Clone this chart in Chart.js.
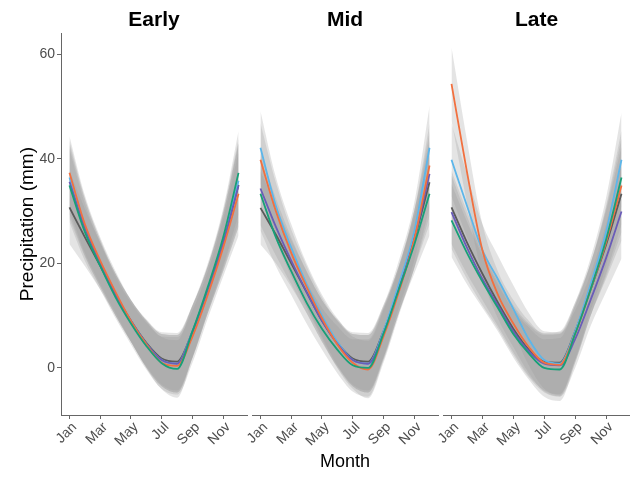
<!DOCTYPE html>
<html>
<head>
<meta charset="utf-8">
<script src="https://cdn.jsdelivr.net/npm/chart.js@4.4.1/dist/chart.umd.min.js"></script>
<style>
  body { margin: 0; background: #fff; }
  #wrap { position: relative; width: 630px; height: 477px; }
  #wrap canvas { position: absolute; left: 0; top: 0; }
</style>
</head>
<body>
<div id="wrap">
  <canvas id="early" width="630" height="477"></canvas>
  <canvas id="mid" width="630" height="477"></canvas>
  <canvas id="late" width="630" height="477"></canvas>
</div>
<script>
// months on the x axis, ticks every 2 months
const months = ["Jan","Feb","Mar","Apr","May","Jun","Jul","Aug","Sep","Oct","Nov","Dec"]
const tickMonths = [0, 2, 4, 6, 8, 10]
const yTicks = [0, 20, 40, 60]

// series colours (drawn in this order, last on top)
const seriesColors = ["#5a5a5a", "#5cb6ea", "#6a5cb8", "#f2703f", "#17a078"]

// Early
const earlyGray   = [30.7, 25.0, 19.5, 14.0, 9.0, 4.8, 1.8, 1.2, 7.0, 15.0, 24.0, 35.0]
const earlyBlue   = [36.4, 27.0, 20.0, 14.0, 9.0, 4.6, 1.5, 0.8, 7.0, 15.0, 24.5, 35.8]
const earlyPurple = [35.6, 26.8, 20.0, 14.0, 9.0, 4.6, 1.5, 0.8, 6.8, 15.0, 24.0, 34.9]
const earlyOrange = [37.3, 27.5, 20.5, 14.5, 9.0, 4.5, 1.0, 0.4, 6.0, 14.0, 23.0, 33.3]
const earlyGreen  = [34.9, 26.0, 19.5, 13.5, 8.5, 4.2, 0.9, -0.2, 7.0, 15.5, 25.0, 37.3]
const earlyBand   = [7, 5.5, 4.5, 4, 4, 4.5, 5, 5.5, 5, 4.5, 5.5, 8]

// Mid
const midGray   = [30.6, 25.5, 20.0, 14.5, 9.0, 4.8, 1.8, 1.2, 7.0, 15.0, 24.5, 35.5]
const midBlue   = [42.1, 31.0, 23.0, 16.0, 10.0, 5.0, 1.5, 0.8, 7.0, 16.0, 26.0, 42.1]
const midPurple = [34.3, 27.0, 20.5, 14.5, 9.0, 4.6, 1.5, 0.8, 6.5, 15.0, 24.5, 37.1]
const midOrange = [39.8, 30.0, 22.0, 15.5, 9.5, 4.5, 1.0, -0.3, 6.0, 14.5, 24.5, 38.7]
const midGreen  = [33.3, 25.0, 18.5, 12.5, 7.5, 3.5, 0.5, 0.0, 6.5, 15.0, 23.5, 33.3]
const midBand   = [7, 5.5, 4.5, 4, 4, 4.5, 5, 5.5, 5, 4.5, 5.5, 8]

// Late
const lateGray   = [30.7, 24.0, 18.0, 12.5, 7.5, 3.5, 1.2, 1.0, 7.0, 15.0, 23.5, 33.3]
const lateBlue   = [39.8, 31.0, 22.5, 17.0, 11.3, 5.5, 1.5, 0.8, 7.0, 16.0, 26.0, 39.8]
const latePurple = [29.8, 23.0, 17.0, 12.0, 7.0, 3.2, 0.8, 0.5, 5.5, 13.0, 21.0, 29.9]
const lateOrange = [54.3, 37.5, 22.5, 14.0, 8.5, 4.0, 1.0, 0.6, 6.5, 15.0, 24.0, 34.9]
const lateGreen  = [28.2, 22.0, 16.5, 11.5, 6.5, 2.8, 0.0, -0.3, 6.5, 15.0, 24.5, 36.4]
const lateBand   = [7, 6, 5, 4.5, 4.5, 5, 5.5, 6, 5.5, 5, 6.5, 9]

Chart.defaults.font.family = "'Liberation Sans', Arial, sans-serif"
Chart.defaults.color = "#4d4d4d"

const axisCol = "#666"

function pts(arr){
  return arr.map((v, i) => ({x: i, y: v}))
}

function makePanel(id, title, lines, band, pad, showY, showXTitle){
  let datasets = []
  // ribbons first (behind)
  lines.forEach(l => {
    datasets.push({
      data: pts(l.map((v, i) => v - band[i])),
      borderWidth: 0, pointRadius: 0, fill: false,
      cubicInterpolationMode: "monotone", order: 20
    })
    datasets.push({
      data: pts(l.map((v, i) => v + band[i])),
      borderWidth: 0, pointRadius: 0, fill: "-1",
      backgroundColor: "rgba(150,150,150,0.26)",
      cubicInterpolationMode: "monotone", order: 20
    })
  })
  lines.forEach((l, k) => {
    datasets.push({
      data: pts(l),
      borderColor: seriesColors[k],
      borderWidth: 1.8, pointRadius: 0, fill: false,
      cubicInterpolationMode: "monotone",
      order: 10 - k
    })
  })

  return new Chart(id, {
    type: "line",
    data: { datasets: datasets },
    options: {
      responsive: false,
      animation: false,
      devicePixelRatio: 1,
      layout: { padding: pad },
      plugins: {
        legend: { display: false },
        tooltip: { enabled: false },
        title: {
          display: true, text: title, fullSize: false,
          color: "#000", font: { size: 21, weight: "bold" },
          padding: { top: 8, bottom: 0 }
        }
      },
      scales: {
        x: {
          type: "linear", min: -0.55, max: 11.55,
          afterBuildTicks: s => { s.ticks = tickMonths.map(v => ({value: v})) },
          afterFit: s => { s.height = 62 },
          ticks: {
            callback: v => months[v],
            autoSkip: false, maxRotation: 45, minRotation: 45,
            font: { size: 14 }, color: "#4d4d4d", padding: 0, labelOffset: 5
          },
          grid: { drawOnChartArea: false, drawTicks: true, tickLength: 4, color: axisCol },
          border: { display: true, color: axisCol, width: 1 },
          title: {
            display: showXTitle, text: "Month", color: "#000",
            font: { size: 18 }, padding: { top: 0, bottom: 4 }
          }
        },
        y: {
          display: showY,
          min: -9, max: 64,
          afterBuildTicks: s => { s.ticks = yTicks.map(v => ({value: v})) },
          afterFit: s => { s.width = showY ? 61 : 0 },
          ticks: { font: { size: 14 }, color: "#4d4d4d", padding: 2 },
          grid: { drawOnChartArea: false, drawTicks: true, tickLength: 4, color: axisCol },
          border: { display: true, color: axisCol, width: 1 },
          title: {
            display: true, text: "Precipitation (mm)", color: "#000",
            font: { size: 19 }, padding: { top: 16, bottom: 0 }
          }
        }
      }
    }
  })
}

makePanel("early", "Early",
  [earlyGray, earlyBlue, earlyPurple, earlyOrange, earlyGreen], earlyBand,
  { left: 0, right: 383, top: 0, bottom: 0 }, true, false)
makePanel("mid", "Mid",
  [midGray, midBlue, midPurple, midOrange, midGreen], midBand,
  { left: 252, right: 192, top: 0, bottom: 0 }, false, true)
makePanel("late", "Late",
  [lateGray, lateBlue, latePurple, lateOrange, lateGreen], lateBand,
  { left: 443, right: 0, top: 0, bottom: 0 }, false, false)
</script>
</body>
</html>
